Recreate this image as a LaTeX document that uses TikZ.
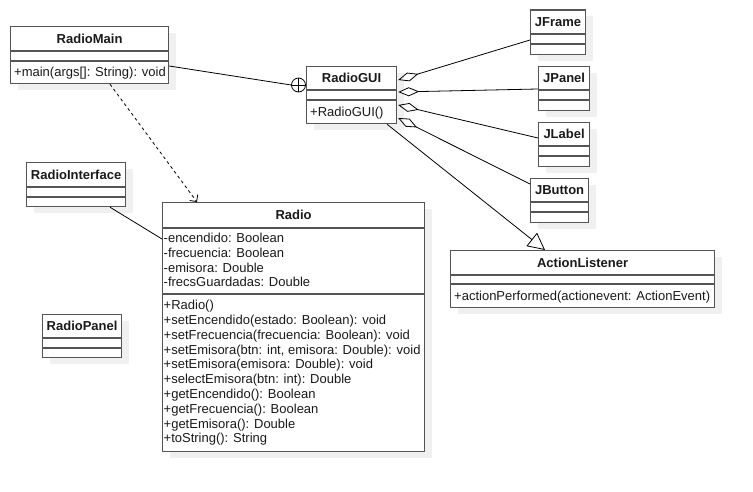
\documentclass[tikz,border=0pt]{standalone}
\usepackage{fontspec}
\setmainfont{Liberation Sans}
\usetikzlibrary{arrows.meta,shadows,calc}
\newcommand\umlfs{\fontsize{13}{14.8}\selectfont}
\definecolor{boxc}{HTML}{555555}
\definecolor{shc}{HTML}{F0F0F0}
\definecolor{txtc}{HTML}{1A1A1A}
\begin{document}
\begin{tikzpicture}[x=1pt,y=-1pt,
 cls/.style={draw=boxc, line width=1.2pt, fill=white, inner sep=0pt, anchor=north west,
   drop shadow={shadow xshift=7pt, shadow yshift=-6pt, fill=shc, opacity=1}},
 ttl/.style={font=\bfseries\umlfs, inner sep=0pt, text height=9.3pt, text depth=0pt, text=txtc},
 mem/.style={font=\umlfs, inner sep=0pt, anchor=west, text height=9.3pt, text depth=0pt, text=txtc},
 sep/.style={draw=boxc, line width=1.2pt},
 conn/.style={draw=black, line width=0.8pt}
]
\useasboundingbox (0,0) rectangle (753,492);

% ---------- RadioMain
\node[cls, minimum width=158pt, minimum height=57pt] (rm) at (10,26) {};
\draw[sep] ($(rm.north west)+(0,25)$) -- ($(rm.north east)+(0,25)$);
\draw[sep] ($(rm.north west)+(0,35)$) -- ($(rm.north east)+(0,35)$);
\node[ttl] (rm-t) at ($(rm.north)+(0,12.5)$) {RadioMain};
\node[mem] (rm-m1) at (14,72) {+main(args[]: String): void};

% ---------- RadioGUI
\node[cls, minimum width=90pt, minimum height=57pt] (rg) at (306,66) {};
\draw[sep] ($(rg.north west)+(0,24)$) -- ($(rg.north east)+(0,24)$);
\draw[sep] ($(rg.north west)+(0,34)$) -- ($(rg.north east)+(0,34)$);
\node[ttl] (rg-t) at ($(rg.north)+(0,12)$) {RadioGUI};
\node[mem] (rg-m1) at (310,111.5) {+RadioGUI()};

% ---------- JFrame
\node[cls, minimum width=55pt, minimum height=44.5pt] (jf) at (530,9.5) {};
\draw[sep] ($(jf.north west)+(0,24.5)$) -- ($(jf.north east)+(0,24.5)$);
\draw[sep] ($(jf.north west)+(0,34.5)$) -- ($(jf.north east)+(0,34.5)$);
\node[ttl] (jf-t) at ($(jf.north)+(0,12.2)$) {JFrame};

% ---------- JPanel
\node[cls, minimum width=51pt, minimum height=44pt] (jp) at (538,66) {};
\draw[sep] ($(jp.north west)+(0,24)$) -- ($(jp.north east)+(0,24)$);
\draw[sep] ($(jp.north west)+(0,34)$) -- ($(jp.north east)+(0,34)$);
\node[ttl] (jp-t) at ($(jp.north)+(0,12)$) {JPanel};

% ---------- JLabel
\node[cls, minimum width=51pt, minimum height=44pt] (jl) at (538,122) {};
\draw[sep] ($(jl.north west)+(0,24)$) -- ($(jl.north east)+(0,24)$);
\draw[sep] ($(jl.north west)+(0,34)$) -- ($(jl.north east)+(0,34)$);
\node[ttl] (jl-t) at ($(jl.north)+(0,12)$) {JLabel};

% ---------- JButton
\node[cls, minimum width=58pt, minimum height=44pt] (jb) at (530,178) {};
\draw[sep] ($(jb.north west)+(0,24)$) -- ($(jb.north east)+(0,24)$);
\draw[sep] ($(jb.north west)+(0,34)$) -- ($(jb.north east)+(0,34)$);
\node[ttl] (jb-t) at ($(jb.north)+(0,12)$) {JButton};

% ---------- RadioInterface
\node[cls, minimum width=99pt, minimum height=44pt] (ri) at (26,162) {};
\draw[sep] ($(ri.north west)+(0,25)$) -- ($(ri.north east)+(0,25)$);
\draw[sep] ($(ri.north west)+(0,35)$) -- ($(ri.north east)+(0,35)$);
\node[ttl] (ri-t) at ($(ri.north)+(0,12.5)$) {RadioInterface};

% ---------- RadioPanel
\node[cls, minimum width=79pt, minimum height=43pt] (rp) at (42,314) {};
\draw[sep] ($(rp.north west)+(0,24)$) -- ($(rp.north east)+(0,24)$);
\draw[sep] ($(rp.north west)+(0,34)$) -- ($(rp.north east)+(0,34)$);
\node[ttl] (rp-t) at ($(rp.north)+(0,12)$) {RadioPanel};

% ---------- Radio
\node[cls, minimum width=262pt, minimum height=249pt] (ra) at (162,202) {};
\draw[sep] ($(ra.north west)+(0,26)$) -- ($(ra.north east)+(0,26)$);
\draw[sep] ($(ra.north west)+(0,92)$) -- ($(ra.north east)+(0,92)$);
\node[ttl] (ra-t) at ($(ra.north)+(0,13)$) {Radio};
\node[mem] (ra-a1) at (163.5,238.0) {-encendido: Boolean};
\node[mem] (ra-a2) at (163.5,252.7) {-frecuencia: Boolean};
\node[mem] (ra-a3) at (163.5,267.4) {-emisora: Double};
\node[mem] (ra-a4) at (163.5,282.1) {-frecsGuardadas: Double};
\node[mem] (ra-m1) at (163.5,305.0) {+Radio()};
\node[mem] (ra-m2) at (163.5,319.8) {+setEncendido(estado: Boolean): void};
\node[mem] (ra-m3) at (163.5,334.6) {+setFrecuencia(frecuencia: Boolean): void};
\node[mem] (ra-m4) at (163.5,349.4) {+setEmisora(btn: int, emisora: Double): void};
\node[mem] (ra-m5) at (163.5,364.2) {+setEmisora(emisora: Double): void};
\node[mem] (ra-m6) at (163.5,379.0) {+selectEmisora(btn: int): Double};
\node[mem] (ra-m7) at (163.5,393.8) {+getEncendido(): Boolean};
\node[mem] (ra-m8) at (163.5,408.6) {+getFrecuencia(): Boolean};
\node[mem] (ra-m9) at (163.5,423.4) {+getEmisora(): Double};
\node[mem] (ra-m10) at (163.5,438.2) {+toString(): String};

% ---------- ActionListener
\node[cls, minimum width=264pt, minimum height=57pt] (al) at (450,250) {};
\draw[sep] ($(al.north west)+(0,25)$) -- ($(al.north east)+(0,25)$);
\draw[sep] ($(al.north west)+(0,34)$) -- ($(al.north east)+(0,34)$);
\node[ttl] (al-t) at ($(al.north)+(0,12.5)$) {ActionListener};
\node[mem] (al-m1) at (454,295.5) {+actionPerformed(actionevent: ActionEvent)};

% ---------- connectors
% nesting (RadioMain -> RadioGUI)
\node[circle, draw=black, line width=0.8pt, minimum size=14pt, inner sep=0pt] (nest) at (298.5,85) {};
\draw[conn] (nest.north) -- (nest.south);
\draw[conn] (nest.west) -- (nest.east);
\draw[conn] ($(rm.north east)+(0,40)$) -- (nest.west);

% dependency RadioMain -> Radio
\draw[conn, dash pattern=on 3pt off 3pt, -{Straight Barb[length=5pt,width=10pt]}]
  ($(rm.south west)+(100,0)$) -- ($(ra.north west)+(35,0)$);

% association RadioInterface -- Radio
\draw[conn] ($(ri.south west)+(84,0)$) -- ($(ra.north west)+(0,37)$);

% aggregations
\draw[conn, {Diamond[open,length=21pt,width=9pt]}-] ($(rg.north east)+(1,14)$) -- ($(jf.north west)+(0,30.5)$);
\draw[conn, {Diamond[open,length=21pt,width=9pt]}-] ($(rg.north east)+(1,26)$) -- ($(jp.north west)+(0,23)$);
\draw[conn, {Diamond[open,length=21pt,width=9pt]}-] ($(rg.north east)+(1,39)$) -- ($(jl.north west)+(0,16)$);
\draw[conn, {Diamond[open,length=21pt,width=9pt]}-] ($(rg.north east)+(1,52)$) -- ($(jb.north west)+(0,6)$);

% generalization RadioGUI -> ActionListener
\draw[conn, -{Triangle[open,length=17pt,width=17pt]}] ($(rg.south west)+(81,0)$) -- ($(al.north west)+(95,0)$);

\end{tikzpicture}
\end{document}
